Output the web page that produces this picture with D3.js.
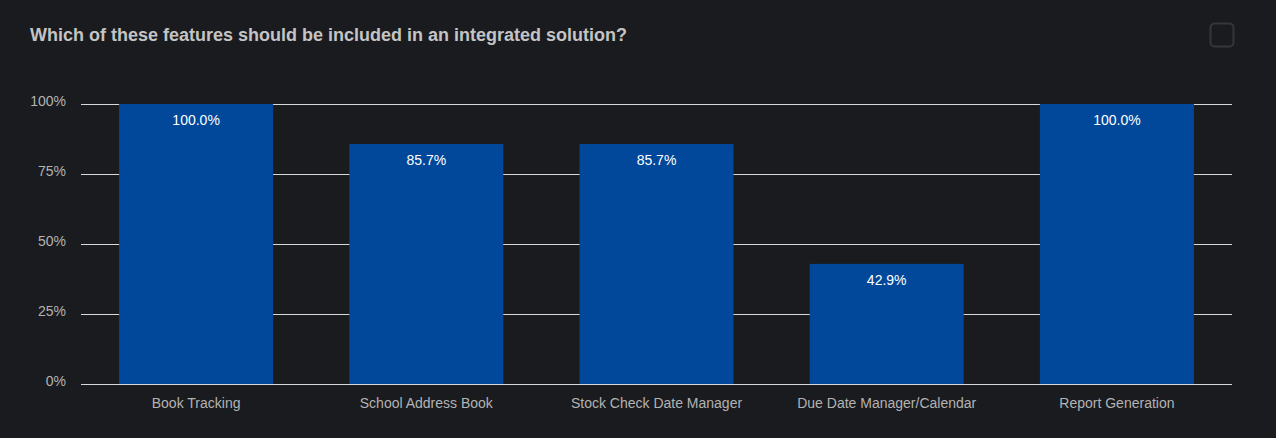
<!DOCTYPE html>
<html><head><meta charset="utf-8">
<script src="https://cdn.jsdelivr.net/npm/d3@7"></script>
<style>
html,body{margin:0;padding:0;background:#1a1b1e;}
svg{display:block;}
</style></head>
<body>
<svg id="chart" width="1276" height="438"></svg>
<script>
const categories = ["Book Tracking","School Address Book","Stock Check Date Manager","Due Date Manager/Calendar","Report Generation"];
const values = [100.0, 85.7, 85.7, 42.9, 100.0];
const yTicks = [0, 25, 50, 75, 100];
const title = "Which of these features should be included in an integrated solution?";

const W = 1276, H = 438;
const m = {left:81, right:44, top:104, bottom:54};
const font = "Liberation Sans, Arial, sans-serif";
const svg = d3.select("#chart");
svg.append("rect").attr("width",W).attr("height",H).attr("fill","#1a1b1e");

svg.append("text").attr("x",30).attr("y",41)
  .attr("font-family",font)
  .attr("font-size",18).attr("font-weight","bold").attr("fill","#c4c4c4")
  .text(title);

svg.append("rect").attr("x",1210.5).attr("y",23.5).attr("width",23).attr("height",23)
  .attr("rx",4).attr("fill","none").attr("stroke","#34363b").attr("stroke-width",2);

const x = d3.scaleBand().domain(categories).range([m.left, W-m.right]).paddingInner(0.331).paddingOuter(0.1655);
const y = d3.scaleLinear().domain([0,100]).range([H-m.bottom, m.top]);

const yAxis = svg.append("g").attr("transform",`translate(${m.left},0)`)
  .call(d3.axisLeft(y).tickValues(yTicks).tickFormat(d=>d+"%").tickSize(-(W-m.left-m.right)).tickPadding(15));
yAxis.select(".domain").remove();
yAxis.selectAll("line").attr("stroke","#d9d9d9").attr("stroke-width",1);
yAxis.selectAll("text").attr("fill","#b3b3b3").attr("font-size",14).attr("dy","0.1em")
  .attr("font-family",font);

svg.append("g").selectAll("rect").data(values).join("rect")
  .attr("x",(d,i)=>x(categories[i])).attr("width",x.bandwidth())
  .attr("y",d=>y(d)).attr("height",d=>y(0)-y(d)).attr("fill","#01489b");

svg.append("g").selectAll("text").data(values).join("text")
  .attr("x",(d,i)=>x(categories[i])+x.bandwidth()/2).attr("y",d=>y(d)+21)
  .attr("text-anchor","middle").attr("fill","#ffffff").attr("font-size",14)
  .attr("font-family",font)
  .text(d=>d.toFixed(1)+"%");

const xAxis = svg.append("g").attr("transform",`translate(0,${H-m.bottom})`)
  .call(d3.axisBottom(x).tickSize(0).tickPadding(14));
xAxis.select(".domain").remove();
xAxis.selectAll("text").attr("fill","#b3b3b3").attr("font-size",14)
  .attr("font-family",font);
</script>
</body></html>
